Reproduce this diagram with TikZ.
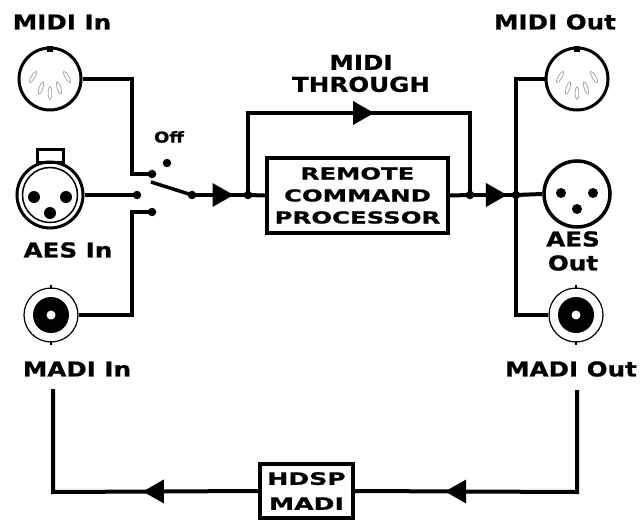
\documentclass[tikz,border=0pt]{standalone}
\usepackage{fontspec}
\newfontfamily\eulab[FakeStretch=1.2,FakeBold=0.8]{DejaVu Sans Bold}
\newfontfamily\eubox[FakeStretch=1.48,FakeBold=0.8]{DejaVu Sans Bold}
\usetikzlibrary{decorations.markings,calc}
\begin{document}
\begin{tikzpicture}[x=1pt,y=-1pt,
  lbl/.style={inner sep=0pt, font=\eulab\fontsize{20.5}{22}\selectfont, align=center},
  dot/.style={circle, fill=black, draw=none, inner sep=0pt, minimum size=8.5pt},
  conn/.style={circle, draw=black, line width=3pt, inner sep=0pt},
  wire/.style={line width=4pt, line join=miter},
  midarrow/.style={postaction={decorate, decoration={markings, mark=at position #1 with {\fill[black] (-10,-12) -- (11,0) -- (-10,12) -- cycle;}}}},
  blk/.style={draw=black, line width=4pt, fill=white, align=center, inner sep=0pt},
  slot/.style={draw=black!35, line width=0.8pt}
]
\useasboundingbox (0,0) rectangle (644,521);

% ---------- MIDI In ----------
\node[conn, minimum size=62pt] (midiin) at (50,79) {};
\fill ($(midiin.north)+(-3,0)$) rectangle ++(6,6);
\foreach \dx/\dy/\r in {-17/-2/-30, -9/9/-18, 0/14/0, 9/9/18, 17/-2/30}{
  \begin{scope}[shift={($(midiin)+(\dx,\dy)$)}, rotate=\r]
    \draw[slot] (0,0) ellipse (1.8pt and 6.5pt);
  \end{scope}}

% ---------- AES In (XLR) ----------
\draw[line width=3pt, fill=white] (37,150) rectangle (63,163);
\node[conn, minimum size=66pt] (aesin) at (50,195) {};
\draw[line width=1.5pt] (aesin.center) circle (27.5pt);
\fill ($(aesin)+(-16,2)$) circle (6pt);
\fill ($(aesin)+(16,2)$) circle (6pt);
\fill ($(aesin)+(0,18)$) circle (6pt);

% ---------- MADI In (BNC) ----------
\node[circle, draw, line width=1.2pt, minimum size=54pt, inner sep=0pt] (madiin) at (51,315) {};
\fill (madiin.center) circle (18pt);
\fill[white] (madiin.center) circle (4.5pt);
\draw[line width=1.5pt] ($(madiin.north)+(0,-2)$) -- ++(0,4);
\draw[line width=1.5pt] ($(madiin.south)+(0,-2)$) -- ++(0,4);

% ---------- MIDI Out ----------
\node[conn, minimum size=62pt] (midiout) at (577,79) {};
\fill ($(midiout.north)+(-3,0)$) rectangle ++(6,6);
\foreach \dx/\dy/\r in {-17/-2/-30, -9/9/-18, 0/14/0, 9/9/18, 17/-2/30}{
  \begin{scope}[shift={($(midiout)+(\dx,\dy)$)}, rotate=\r]
    \draw[slot] (0,0) ellipse (1.8pt and 6.5pt);
  \end{scope}}

% ---------- AES Out ----------
\node[conn, line width=3.5pt, minimum size=66pt] (aesout) at (577,194) {};
\fill ($(aesout)+(-16,-1)$) circle (5pt);
\fill ($(aesout)+(16,-1)$) circle (5pt);
\fill ($(aesout)+(0,15)$) circle (5pt);

% ---------- MADI Out (BNC) ----------
\node[circle, draw, line width=1.2pt, minimum size=54pt, inner sep=0pt] (madiout) at (576,315) {};
\fill (madiout.center) circle (18pt);
\fill[white] (madiout.center) circle (4.5pt);
\draw[line width=1.5pt] ($(madiout.north)+(0,-2)$) -- ++(0,4);
\draw[line width=1.5pt] ($(madiout.south)+(0,-2)$) -- ++(0,4);

% ---------- switch ----------
\node[dot] (swmidi) at (152,174) {};
\node[dot] (swoff) at (167,163) {};
\node[dot] (swaes) at (137,195) {};
\node[dot] (swmadi) at (152,212) {};
\node[dot] (pivot) at (192,195) {};
\coordinate (lever) at (151,182);
\coordinate (k1) at (132,174);
\coordinate (k2) at (132,212);

\draw[wire] (midiin.east) -| (k1) -- (swmidi.center);
\draw[wire] (aesin.east) -- (swaes.center);
\draw[wire] (madiin.east) -| (k2) -- (swmadi.center);
\draw[line width=3.5pt] (lever) -- (pivot.center);

% ---------- main path ----------
\node[dot] (j1) at (248,195) {};
\node[dot] (j2) at (470,195) {};
\node[dot] (j3) at (516,195) {};
\node[blk, minimum width=181pt, minimum height=75pt,
      font=\eubox\fontsize{16.5}{22}\selectfont] (rcp) at (357.5,195.5) {REMOTE\\COMMAND\\PROCESSOR};

\draw[wire, midarrow=0.545] (pivot.center) -- (j1.center);
\draw[wire] (j1.center) -- (rcp.west);
\draw[wire] (rcp.east) -- (j2.center);
\draw[wire, midarrow=0.565] (j2.center) -- (j3.center);
\draw[wire] (j3.center) -- (aesout.west);

\coordinate (tl) at (248,113);
\coordinate (tr) at (470,113);
\draw[wire] (j1.center) -- (tl) -- (tr) -- (j2.center);
\path[midarrow=0.518] (tl) -- (tr);

\draw[wire] (midiout.west) -| (j3.center);
\draw[wire] (j3.center) |- (madiout.west);

% ---------- bottom loop ----------
\node[blk, minimum width=93pt, minimum height=54pt,
      font=\eubox\fontsize{17}{25}\selectfont] (hdsp) at (306.5,491) {HDSP\\MADI};
\coordinate (mi) at (53,389);
\coordinate (bl) at (53,492);
\coordinate (mo) at (577,390);
\coordinate (br) at (577,492);
\draw[wire, midarrow=0.688] (mo) -- (br) -- (hdsp.east);
\draw[wire, midarrow=0.338] (hdsp.west) -- (bl) -- (mi);

% ---------- labels ----------
\node[lbl] (lmidiin) at (62,22) {MIDI In};
\node[lbl] (laesin) at (68,250) {AES In};
\node[lbl] (lmadiin) at (77,369) {MADI In};
\node[lbl, font=\eulab\fontsize{15}{17}\selectfont] (loff) at (169,137) {Off};
\node[lbl] (lthru) at (361,73.5) {MIDI\\THROUGH};
\node[lbl] (lmidiout) at (555,22) {MIDI Out};
\node[lbl, font=\eulab\fontsize{20.5}{24}\selectfont] (laesout) at (573,251) {AES\\Out};
\node[lbl] (lmadiout) at (571,369) {MADI Out};
\end{tikzpicture}
\end{document}
